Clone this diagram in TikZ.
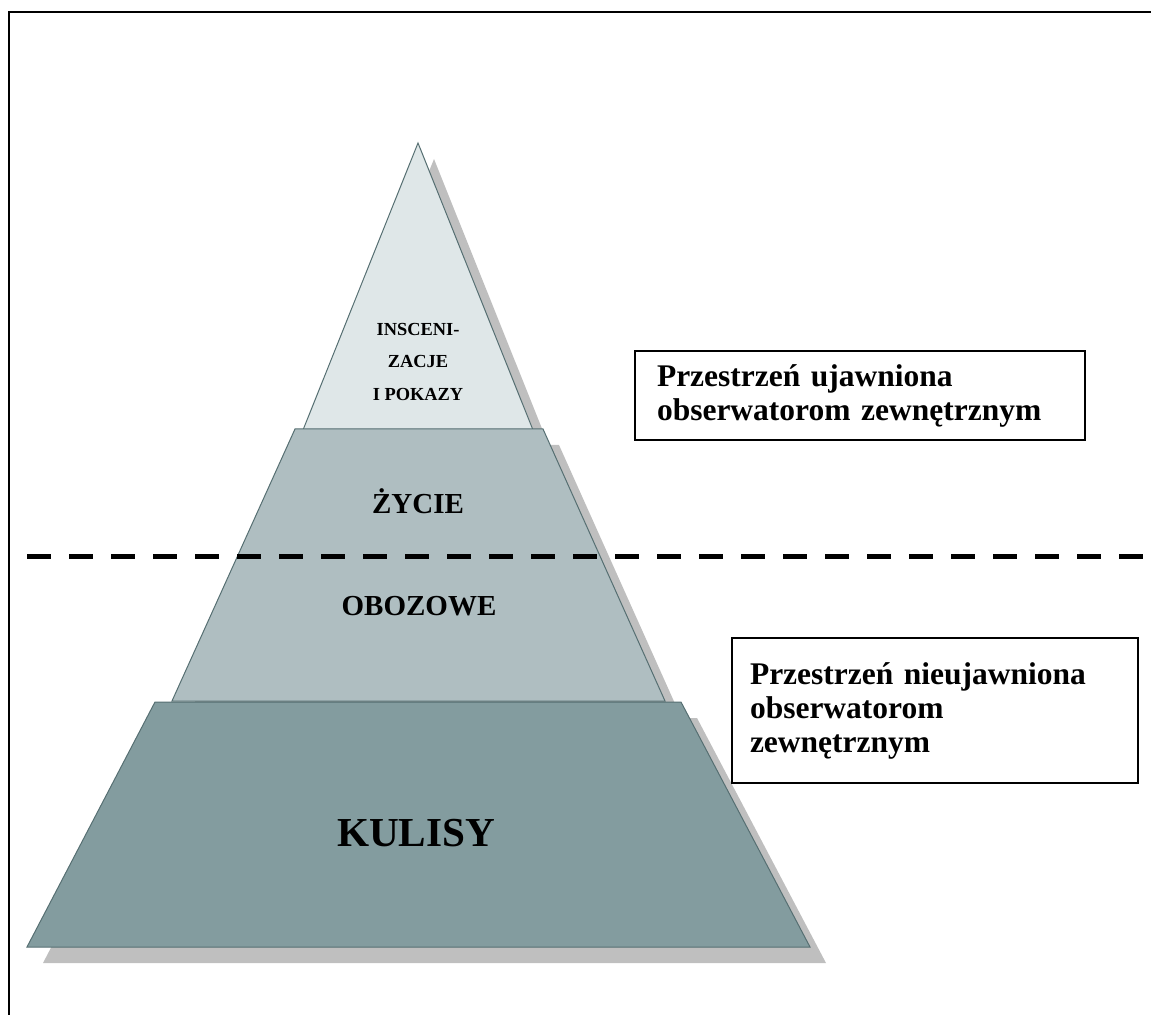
\documentclass[tikz,border=0pt]{standalone}
\usepackage{fontspec}
\setmainfont{Liberation Serif}
\usepackage{xcolor}
\usetikzlibrary{positioning}

\definecolor{topfill}{HTML}{DFE7E8}
\definecolor{midfill}{HTML}{AFBEC1}
\definecolor{basefill}{HTML}{839C9F}
\definecolor{shadowgray}{HTML}{BFBFBF}
\definecolor{tieredge}{HTML}{566F72}

\begin{document}
\begin{tikzpicture}[
  x=0.5pt, y=-0.5pt,
  tier/.style={draw=tieredge, line width=0.5pt},
  tiershadow/.style={fill=shadowgray, shift={(16,16)}},
  tierlbl/.style={font=\bfseries\fontsize{14.5}{16}\selectfont, inner sep=0pt, anchor=base},
  infobox/.style={draw, line width=1pt, align=left, anchor=north west,
                  font=\bfseries\fontsize{15.75}{17}\selectfont},
]
  \useasboundingbox (0,0) rectangle (1151,1015);

  % frame
  \draw[line width=1pt] (9,1015) -- (9,12) -- (1151,12);

  % pyramid, top to bottom
  \fill[tiershadow] (418,143) -- (533,430) -- (303,430) -- cycle;
  \filldraw[tier, fill=topfill] (418,143) -- (533,430) -- (303,430) -- cycle;
  \fill[tiershadow] (295,429) -- (543,429) -- (665,701) -- (172,701) -- cycle;
  \filldraw[tier, fill=midfill] (295,429) -- (543,429) -- (665,701) -- (172,701) -- cycle;
  \fill[tiershadow] (155,702) -- (681,702) -- (810,947) -- (27,947) -- cycle;
  \filldraw[tier, fill=basefill] (155,702) -- (681,702) -- (810,947) -- (27,947) -- cycle;

  \node[font=\bfseries\fontsize{9.2}{16.25}\selectfont, align=center, inner sep=0pt]
    (staged) at (418,362) {INSCENI-\\ZACJE\\I POKAZY};
  \node[tierlbl] (life) at (418,514) {ŻYCIE};
  \node[tierlbl] (camp) at (419,616) {OBOZOWE};
  \node[tierlbl, font=\bfseries\fontsize{20.6}{24}\selectfont] (wings) at (416,846) {KULISY};

  % border between the two spaces
  \draw[line width=2.5pt, dash pattern=on 12pt off 9pt] (27,557) -- (1143,557);

  \node[infobox, text width=203pt, inner xsep=11pt, minimum height=44.5pt]
    (shown) at (634,350) {Przestrzeń ujawniona\\obserwatorom zewnętrznym};
  \node[infobox, text width=185pt, inner xsep=9pt, minimum height=72.5pt]
    (hidden) at (731,637) {Przestrzeń nieujawniona\\obserwatorom\\zewnętrznym};
\end{tikzpicture}
\end{document}
